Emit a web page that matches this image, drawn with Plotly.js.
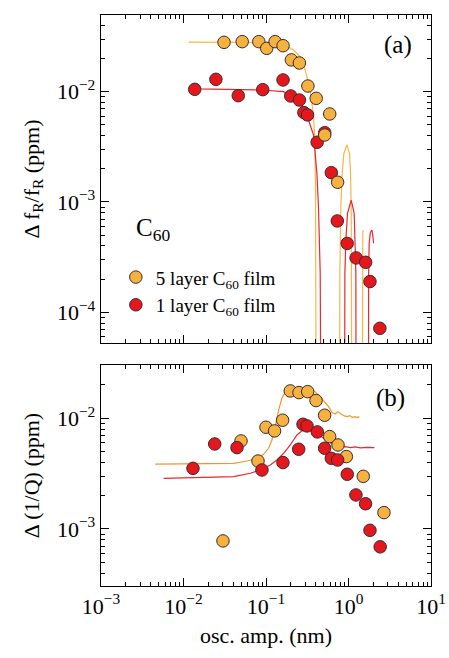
<!DOCTYPE html>
<html>
<head>
<meta charset="utf-8">
<script src="https://cdn.plot.ly/plotly-3.0.1.min.js"></script>
<style>html,body{margin:0;padding:0;background:#fff;}#chart{width:449px;height:658px;}</style>
</head>
<body>
<div id="chart"></div>
<script>
// ---- Panel (a): frequency shift data ----
const a5_x = [0.031, 0.0515, 0.0817, 0.102, 0.129, 0.161, 0.203, 0.254, 0.322, 0.406, 0.592, 0.515, 0.738];
const a5_y = [0.0280, 0.0284, 0.0284, 0.0247, 0.0284, 0.0261, 0.0194, 0.0182, 0.01125, 0.0087, 0.00628, 0.00405, 0.00151];
const a1_x = [0.01368, 0.0247, 0.0461, 0.0912, 0.161, 0.1995, 0.254, 0.288, 0.319, 0.417, 0.515, 0.619, 0.731, 0.964, 1.236, 1.614, 1.82, 2.40];
const a1_y = [0.0105, 0.01294, 0.0092, 0.01043, 0.01277, 0.00914, 0.0084, 0.00646, 0.00615, 0.00348, 0.00425, 0.001845, 0.000673, 0.000421, 0.000311, 0.000284, 0.00019, 0.0000716];

// fit lines panel (a)
const fa5_x = [0.0115, 0.03, 0.08, 0.12, 0.163, 0.2153, 0.26, 0.2985, 0.327, 0.353, 0.377, 0.392, 0.398, 0.402, 0.405, 0.407, 0.409,
               0.775, 0.786, 0.808, 0.839, 0.879, 0.955, 1.029, 1.058, 1.078, 1.098, 1.11,
               1.455, 1.462, 1.475, 1.49, 1.50];
const fa5_y = [0.0281, 0.0281, 0.0281, 0.0280, 0.02704, 0.02388, 0.02075, 0.01574, 0.0119, 0.00902, 0.00593, 0.0036, 0.0015, 0.0005, 0.0001, 0.00003, 0.000001,
               0.000001, 0.000226, 0.00091, 0.00182, 0.00277, 0.00329, 0.00277, 0.00182, 0.00091, 0.000226, 0.000001,
               0.000001, 0.0001, 0.0003, 0.00047, 0.00056];
const fa1_x = [0.01205, 0.0152, 0.0891, 0.163, 0.196, 0.237, 0.285, 0.327, 0.377, 0.414, 0.4325, 0.454, 0.47,
               0.893, 0.904, 0.929, 0.973, 1.078, 1.172, 1.205, 1.228, 1.24,
               1.74, 1.755, 1.78, 1.84, 1.92, 1.97, 2.01];
const fa1_y = [0.01074, 0.0106, 0.01036, 0.0100, 0.00933, 0.00841, 0.00708, 0.00553, 0.00405, 0.00182, 0.00091, 0.000226, 0.000001,
               0.000001, 0.000226, 0.000452, 0.00079, 0.00104, 0.00079, 0.000452, 0.000226, 0.000001,
               0.000001, 0.000226, 0.00042, 0.00053, 0.000557, 0.0005, 0.000423];

// ---- Panel (b): dissipation data ----
const b5_x = [0.0301, 0.0498, 0.080, 0.100, 0.127, 0.159, 0.197, 0.251, 0.320, 0.404, 0.514, 0.591, 0.746, 0.942, 1.51, 2.69];
const b5_y = [0.00078, 0.00624, 0.00411, 0.0083, 0.00769, 0.0096, 0.01766, 0.01706, 0.0174, 0.01445, 0.01065, 0.00683, 0.00574, 0.00451, 0.00299, 0.001406];
const b1_x = [0.01303, 0.0239, 0.0445, 0.0893, 0.1606, 0.249, 0.281, 0.314, 0.419, 0.514, 0.619, 0.739, 0.966, 1.23, 1.61, 1.82, 2.42];
const b1_y = [0.00353, 0.00586, 0.00543, 0.00341, 0.00398, 0.00525, 0.00883, 0.00853, 0.00753, 0.00536, 0.00435, 0.0042, 0.00312, 0.00203, 0.00169, 0.000973, 0.00069];

const fb5_x = [0.00455, 0.0406, 0.0588, 0.0778, 0.0936, 0.1076, 0.118, 0.1297, 0.1423, 0.156, 0.1713, 0.188, 0.2606, 0.378, 0.4345, 0.5, 0.574, 0.631,
               0.692, 0.738, 0.782, 0.834, 0.889, 0.959, 1.033, 1.112, 1.198, 1.267, 1.352];
const fb5_y = [0.00386, 0.00392, 0.00411, 0.00435, 0.00473, 0.00536, 0.00637, 0.00841, 0.01189, 0.01517, 0.01742, 0.0184, 0.01828, 0.01778, 0.01626, 0.01445, 0.01274, 0.01125,
               0.01094, 0.01148, 0.0111, 0.01072, 0.0105, 0.01035, 0.01057, 0.0102, 0.01035, 0.01014, 0.01035];
const fb1_x = [0.00574, 0.016, 0.0406, 0.0646, 0.0853, 0.1127, 0.1358, 0.1636, 0.197, 0.237, 0.273, 0.344, 0.415, 0.5, 0.601, 0.692, 0.796, 0.914, 1.052, 1.21, 1.39, 1.675, 2.055];
const fb1_y = [0.00287, 0.00291, 0.00297, 0.00319, 0.00341, 0.00379, 0.0042, 0.00483, 0.00574, 0.00706, 0.00769, 0.00774, 0.00731, 0.00659, 0.00602, 0.00562, 0.00547, 0.00555, 0.00543, 0.00551, 0.0054, 0.00547, 0.00543];

// tick labels
const xTickVals = [0.001, 0.01, 0.1, 1, 10];
const xTickText = ['10<sup>−3</sup>', '10<sup>−2</sup>', '10<sup>−1</sup>', '10<sup>0</sup>', '10<sup>1</sup>'];
const yaTickVals = [0.0001, 0.001, 0.01];
const yaTickText = ['10<sup>−4</sup>', '10<sup>−3</sup>', '10<sup>−2</sup>'];
const ybTickVals = [0.001, 0.01];
const ybTickText = ['10<sup>−3</sup>', '10<sup>−2</sup>'];

const seriesNames = ['5 layer C<sub>60</sub> film', '1 layer C<sub>60</sub> film'];
const orange = '#F5B23E', red = '#E3171C';
const outline = '#3a2a30';
const FONT = '"Liberation Serif", "Times New Roman", Times, serif';

function mk(x, y, color, xa, ya, name, show, rank) {
  return {x: x, y: y, type: 'scatter', mode: 'markers', xaxis: xa, yaxis: ya,
    name: name, showlegend: show, legendrank: rank,
    marker: {color: color, size: 12.5, line: {color: outline, width: 1}}};
}
function ln(x, y, color, xa, ya) {
  return {x: x, y: y, type: 'scatter', mode: 'lines', xaxis: xa, yaxis: ya,
    showlegend: false, hoverinfo: 'skip', line: {color: color, width: 1.2}};
}

const data = [
  ln(fa5_x, fa5_y, '#F7B748', 'x2', 'y2'),
  ln(fa1_x, fa1_y, '#E8282C', 'x2', 'y2'),
  mk(a1_x, a1_y, red, 'x2', 'y2', seriesNames[1], true, 2),
  mk(a5_x, a5_y, orange, 'x2', 'y2', seriesNames[0], true, 1),
  ln(fb5_x, fb5_y, '#F29530', 'x', 'y'),
  ln(fb1_x, fb1_y, '#E8282C', 'x', 'y'),
  mk(b5_x, b5_y, orange, 'x', 'y', seriesNames[0], false, 1),
  mk(b1_x, b1_y, red, 'x', 'y', seriesNames[1], false, 2)
];

const axBase = {
  type: 'log', showline: true, linecolor: '#000', linewidth: 1.3, mirror: 'allticks',
  ticks: 'inside', ticklen: 8, tickwidth: 1, tickcolor: '#000', tickmode: 'array',
  showgrid: false, zeroline: false,
  tickfont: {family: FONT, size: 22, color: '#000'},
  minor: {ticks: 'inside', ticklen: 4, tickcolor: '#000', dtick: 'D1', showgrid: false}
};

const layout = {
  width: 449, height: 658,
  margin: {l: 101, r: 18, t: 15, b: 72},
  paper_bgcolor: '#fff', plot_bgcolor: '#fff',
  font: {family: FONT, color: '#000'},
  showlegend: true,
  legend: {x: 0.045, y: 0.574, xanchor: 'left', yanchor: 'top', bgcolor: 'rgba(0,0,0,0)',
           font: {family: FONT, size: 19, color: '#000'}, tracegroupgap: 0, itemsizing: 'trace'},
  xaxis: Object.assign({}, axBase, {range: [-3, 1], anchor: 'y', tickvals: xTickVals, ticktext: xTickText,
    title: {text: 'osc. amp. (nm)', font: {family: FONT, size: 22}, standoff: 10}}),
  xaxis2: Object.assign({}, axBase, {range: [-3, 1], anchor: 'y2', matches: 'x', tickvals: xTickVals, ticktext: xTickText, showticklabels: false}),
  yaxis: Object.assign({}, axBase, {range: [-3.515, -1.519], domain: [0, 0.387], anchor: 'x',
    tickvals: ybTickVals, ticktext: ybTickText,
    title: {text: 'Δ (1/Q) (ppm)', font: {family: FONT, size: 22}, standoff: 11}}),
  yaxis2: Object.assign({}, axBase, {range: [-4.278, -1.305], domain: [0.4256, 1], anchor: 'x2',
    tickvals: yaTickVals, ticktext: yaTickText,
    title: {text: 'Δ f<sub>R</sub>/f<sub>R</sub> (ppm)', font: {family: FONT, size: 22}, standoff: 11}}),
  annotations: [
    {text: '(a)', xref: 'paper', yref: 'paper', x: 0.90, y: 0.9475, showarrow: false,
     font: {family: FONT, size: 25}, xanchor: 'center', yanchor: 'middle'},
    {text: '(b)', xref: 'paper', yref: 'paper', x: 0.876, y: 0.329, showarrow: false,
     font: {family: FONT, size: 25}, xanchor: 'center', yanchor: 'middle'},
    {text: 'C<sub>60</sub>', xref: 'paper', yref: 'paper', x: 0.158, y: 0.6235, showarrow: false,
     font: {family: FONT, size: 25}, xanchor: 'center', yanchor: 'middle'}
  ]
};

Plotly.newPlot('chart', data, layout, {staticPlot: true, displayModeBar: false});
</script>
</body>
</html>
